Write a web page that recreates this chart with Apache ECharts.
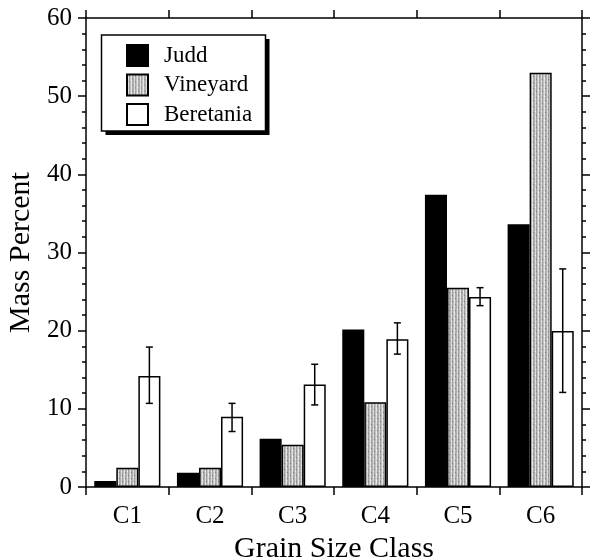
<!DOCTYPE html>
<html>
<head>
<meta charset="utf-8">
<script src="https://cdn.jsdelivr.net/npm/echarts@6/dist/echarts.min.js"></script>
<style>
html,body{margin:0;padding:0;background:#fff;}
#chart{width:593px;height:560px;}
</style>
</head>
<body>
<div id="chart"></div>
<script>
const categories = ['C1', 'C2', 'C3', 'C4', 'C5', 'C6'];
const judd = [0.77, 1.83, 6.17, 20.15, 37.4, 33.6];
const vineyard = [2.47, 2.47, 5.4, 10.84, 25.5, 53.0];
const beretania = [14.2, 8.98, 13.1, 18.9, 24.3, 19.95];
const beretaniaLow = [10.7, 7.1, 10.5, 17.0, 23.2, 12.1];
const beretaniaHigh = [17.9, 10.7, 15.7, 21.0, 25.5, 27.9];
const yTicks = [0, 10, 20, 30, 40, 50, 60];

// stippled gray texture for Vineyard
const pc = document.createElement('canvas');
pc.width = 6; pc.height = 6;
const pctx = pc.getContext('2d');
const cols = ['#aeaeae', '#d8d8d8', '#a2a2a2', '#c2c2c2', '#e2e2e2', '#aaaaaa'];
for (let i = 0; i < 6; i++) { pctx.fillStyle = cols[i]; pctx.fillRect(i, 0, 1, 6); }
pctx.fillStyle = '#7e7e7e'; pctx.fillRect(2, 1, 1, 1); pctx.fillRect(5, 4, 1, 1);
pctx.fillStyle = '#f2f2f2'; pctx.fillRect(1, 3, 1, 1); pctx.fillRect(4, 0, 1, 1);
const vinePattern = { image: pc, repeat: 'repeat' };

const chart = echarts.init(document.getElementById('chart'));
const serif = 'Liberation Serif';
const axisLine = { show: true, onZero: false, lineStyle: { color: '#000', width: 1.5 } };

const errorData = categories.map((c, i) => [i, beretaniaLow[i], beretaniaHigh[i]]);

chart.setOption({
  animation: false,
  backgroundColor: '#fff',
  textStyle: { fontFamily: serif },
  grid: { left: 86, right: 11, top: 18, bottom: 73, containLabel: false, outerBoundsMode: 'none' },
  graphic: [
    { type: 'rect', z: 1, shape: { x: 105.5, y: 39, width: 164, height: 96 }, style: { fill: '#000' } },
    { type: 'rect', z: 2, shape: { x: 101.5, y: 35, width: 164, height: 96 },
      style: { fill: '#fff', stroke: '#000', lineWidth: 1.5 } }
  ],
  legend: {
    orient: 'vertical',
    left: 102, top: 35, z: 5,
    padding: [9, 14, 10, 24],
    itemWidth: 21, itemHeight: 21, itemGap: 6.5,
    icon: 'rect',
    textStyle: { fontFamily: serif, fontSize: 23, color: '#000', padding: [0, 0, 0, 11] },
    data: ['Judd', 'Vineyard', 'Beretania']
  },
  xAxis: [
    {
      type: 'category', data: categories, position: 'bottom',
      axisLine: axisLine,
      axisTick: { show: true, length: 8, lineStyle: { color: '#000', width: 1.5 } },
      axisLabel: { fontFamily: serif, fontSize: 25, color: '#000', margin: 17 },
      name: 'Grain Size Class', nameLocation: 'middle', nameGap: 41,
      nameTextStyle: { fontFamily: serif, fontSize: 30, color: '#000' }
    },
    {
      type: 'category', data: categories, position: 'top',
      axisLine: axisLine,
      axisTick: { show: true, length: 8, lineStyle: { color: '#000', width: 1.5 } },
      axisLabel: { show: false }
    }
  ],
  yAxis: [
    {
      type: 'value', min: 0, max: 60, interval: 10, position: 'left',
      axisLine: axisLine,
      axisTick: { show: true, length: 8, lineStyle: { color: '#000', width: 1.5 } },
      minorTick: { show: true, splitNumber: 5, length: 4, lineStyle: { color: '#000', width: 1.5 } },
      splitLine: { show: false },
      axisLabel: { fontFamily: serif, fontSize: 25, color: '#000', margin: 14,
        formatter: v => yTicks.includes(v) ? String(v) : '' },
      name: 'Mass Percent', nameLocation: 'middle', nameGap: 48,
      nameTextStyle: { fontFamily: serif, fontSize: 30, color: '#000' }
    },
    {
      type: 'value', min: 0, max: 60, interval: 10, position: 'right',
      axisLine: axisLine,
      axisTick: { show: true, length: 8, lineStyle: { color: '#000', width: 1.5 } },
      minorTick: { show: true, splitNumber: 5, length: 4, lineStyle: { color: '#000', width: 1.5 } },
      splitLine: { show: false },
      axisLabel: { show: false }
    }
  ],
  series: [
    {
      name: 'Judd', type: 'bar', data: judd, barGap: '0%', barCategoryGap: '20%',
      itemStyle: { color: '#000', borderColor: '#000', borderWidth: 1.5 }
    },
    {
      name: 'Vineyard', type: 'bar', data: vineyard, barGap: '0%', barCategoryGap: '20%',
      itemStyle: { color: vinePattern, borderColor: '#000', borderWidth: 1.5 }
    },
    {
      name: 'Beretania', type: 'bar', data: beretania, barGap: '0%', barCategoryGap: '20%',
      itemStyle: { color: '#fff', borderColor: '#000', borderWidth: 1.5 }
    },
    {
      name: 'err', type: 'custom', data: errorData, z: 10,
      renderItem: function (params, api) {
        const band = api.size([1, 0])[0];
        const off = band * 0.8 / 3;
        const lo = api.coord([api.value(0), api.value(1)]);
        const hi = api.coord([api.value(0), api.value(2)]);
        const x = lo[0] + off;
        const cap = 3.5;
        const st = { stroke: '#000', lineWidth: 1.5 };
        return {
          type: 'group',
          children: [
            { type: 'line', shape: { x1: x, y1: lo[1], x2: x, y2: hi[1] }, style: st },
            { type: 'line', shape: { x1: x - cap, y1: lo[1], x2: x + cap, y2: lo[1] }, style: st },
            { type: 'line', shape: { x1: x - cap, y1: hi[1], x2: x + cap, y2: hi[1] }, style: st }
          ]
        };
      }
    }
  ]
});
</script>
</body>
</html>
